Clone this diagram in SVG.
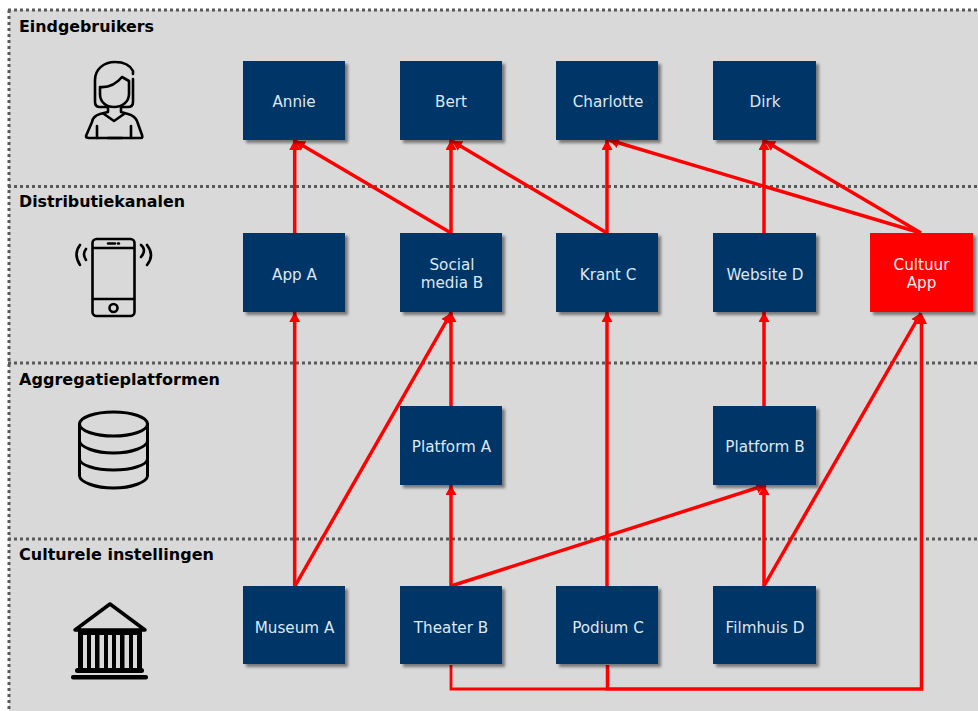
<svg xmlns="http://www.w3.org/2000/svg" width="978" height="711" viewBox="0 0 978 711">
<style>
.sep{stroke:#595959;stroke-width:3;stroke-dasharray:3 3;fill:none}
.head{font:bold 15.500px "DejaVu Sans",sans-serif;fill:#000}
.box{fill:#003567;filter:url(#sh)}
.red{fill:#f00;filter:url(#sh)}
.lab{font:15.200px "DejaVu Sans",sans-serif;fill:#dfe8f2;text-anchor:middle}
.conn{stroke:#f00;stroke-width:3.500;fill:none;marker-end:url(#arr)}
.plain{stroke:#f00;stroke-width:3.500;fill:none;stroke-linejoin:miter}
.ic{stroke:#000;stroke-width:2.600;fill:none;stroke-linecap:round;stroke-linejoin:round}
</style>
<defs>
<filter id="sh" x="-10%" y="-10%" width="125%" height="125%"><feDropShadow dx="3" dy="3" stdDeviation="1.800" flood-color="#000" flood-opacity="0.45"/></filter>
<marker id="arr" markerUnits="userSpaceOnUse" markerWidth="12" markerHeight="12" refX="10" refY="5.500" orient="auto"><path d="M0 0L10 5.500L0 11z" fill="#f00"/></marker>
</defs>
<rect x="9" y="10" width="969" height="701" fill="#d9d9d9"/>
<g id="bands">
<path class="sep" d="M8 10H978M8 186.500H978M8 363H978M8 539H978M9 10V711"/>
</g>
<g id="band-labels">
<text class="head" x="19" y="32" textLength="135" lengthAdjust="spacingAndGlyphs">Eindgebruikers</text>
<text class="head" x="19" y="207" textLength="166" lengthAdjust="spacingAndGlyphs">Distributiekanalen</text>
<text class="head" x="19" y="385" textLength="201" lengthAdjust="spacingAndGlyphs">Aggregatieplatformen</text>
<text class="head" x="19" y="560" textLength="195" lengthAdjust="spacingAndGlyphs">Culturele instellingen</text>
</g>
<g id="connectors">
<path class="conn" d="M294.700 233V140"/>
<path class="conn" d="M451 233L295 141"/>
<path class="conn" d="M451 233V140"/>
<path class="conn" d="M607 233L452 141"/>
<path class="conn" d="M607 233V140"/>
<path class="conn" d="M921 233L609 140"/>
<path class="conn" d="M764 233V140"/>
<path class="conn" d="M921 233L765 141"/>
<path class="conn" d="M294.700 586V312"/>
<path class="conn" d="M295 586L451 313"/>
<path class="conn" d="M451 406V312"/>
<path class="conn" d="M607 586V312"/>
<path class="conn" d="M764 406V312"/>
<path class="conn" d="M764 586L921 313"/>
<path class="conn" d="M451 586V485"/>
<path class="conn" d="M451 586L766 485"/>
<path class="conn" d="M764 586V485"/>
<path class="plain" style="stroke-width:2.800" d="M451 665V689H607"/>
<path class="plain" d="M607.500 665V689H921.500V323"/>
<path d="M921.500 313l-5.500 11h11z" fill="#f00"/>
</g>
<g id="n-annie"><rect class="box" x="243" y="61" width="102" height="79"/><text class="lab" x="294" y="107">Annie</text></g>
<g id="n-bert"><rect class="box" x="400" y="61" width="102" height="79"/><text class="lab" x="451" y="107">Bert</text></g>
<g id="n-charlotte"><rect class="box" x="556" y="61" width="102" height="79"/><text class="lab" x="608" y="107">Charlotte</text></g>
<g id="n-dirk"><rect class="box" x="713" y="61" width="103" height="79"/><text class="lab" x="765" y="107">Dirk</text></g>
<g id="n-appa"><rect class="box" x="243" y="233" width="102" height="79"/><text class="lab" x="294.500" y="279.500">App A</text></g>
<g id="n-social"><rect class="box" x="400" y="233" width="102" height="79"/><text class="lab" x="452" y="270">Social</text><text class="lab" x="452" y="288">media B</text></g>
<g id="n-krant"><rect class="box" x="556" y="233" width="102" height="79"/><text class="lab" x="608" y="279.500">Krant C</text></g>
<g id="n-website"><rect class="box" x="713" y="233" width="103" height="79"/><text class="lab" x="765" y="279.500">Website D</text></g>
<g id="n-cultuur"><rect class="red" x="870" y="233" width="103" height="79"/><text class="lab" style="fill:#fff0f0" x="921.500" y="270">Cultuur</text><text class="lab" style="fill:#fff0f0" x="921.500" y="288">App</text></g>
<g id="n-pa"><rect class="box" x="400" y="406" width="102" height="79"/><text class="lab" x="451.500" y="451.500">Platform A</text></g>
<g id="n-pb"><rect class="box" x="713" y="406" width="103" height="79"/><text class="lab" x="765" y="451.500">Platform B</text></g>
<g id="n-museum"><rect class="box" x="243" y="586" width="102" height="78"/><text class="lab" x="294.500" y="632.500">Museum A</text></g>
<g id="n-theater"><rect class="box" x="400" y="586" width="102" height="78"/><text class="lab" x="451" y="632.500">Theater B</text></g>
<g id="n-podium"><rect class="box" x="556" y="586" width="102" height="78"/><text class="lab" x="608" y="632.500">Podium C</text></g>
<g id="n-filmhuis"><rect class="box" x="713" y="586" width="103" height="78"/><text class="lab" x="765" y="632.500">Filmhuis D</text></g>
<g id="icon-user" class="ic">
<path d="M133 74V71C130 65 123 62 115 62C104 62 95 69 95 80V102Q95 107 100 107H108M133 79V102Q133 107 128 107H121"/>
<path d="M100 87Q113 88 122 77L129 81V94C129 102 122 107 114 107C106 107 100 102 100 94Z"/>
<path d="M108 107V112L100 114Q93 116 92 122L86 136Q86 138 89 138H141Q143 138 142 135L137 121Q135 116 128 114L121 112V107"/>
<path d="M104 114L114 121L124 114M97 126V138M131 126V138M108 138H122"/>
</g>
<g id="icon-phone" class="ic">
<rect x="92.500" y="239" width="42" height="77" rx="4"/>
<path d="M93 248H134M93 299H134M108 243.500H115M118 243.500H119"/>
<circle cx="113.500" cy="308" r="4"/>
<path d="M80 245Q73 254 80 265M86 249Q82 254 86 260M141 245Q147 250 141 257M147 245Q155 255 147 265"/>
</g>
<g id="icon-db" class="ic" style="stroke-width:3">
<ellipse cx="113.500" cy="424" rx="34" ry="12"/>
<path d="M79.500 424V476C80 482 95 488 113.500 488S147 482 147.500 476V424M79.500 441C80 447 95 453 113.500 453S147 447 147.500 441M79.500 459C80 465 95 470 113.500 470S147 465 147.500 459"/>
</g>
<g id="icon-museum">
<path class="ic" style="stroke-width:3.500" d="M110 604L75 630H145Z"/>
<path fill="#000" d="M78 630H142V669H78Z"/>
<path fill="#d9d9d9" d="M83 635H87V668H83ZM91 635H95V668H91ZM99.500 635H104V668H99.500ZM108 635H112V668H108ZM116 635H120V668H116ZM124.500 635H129V668H124.500ZM133 635H137V668H133Z"/>
<rect x="75" y="668" width="69" height="5" rx="2.500" fill="#000"/>
<rect x="71" y="675" width="77" height="4.500" rx="2" fill="#000"/>
</g>
</svg>
